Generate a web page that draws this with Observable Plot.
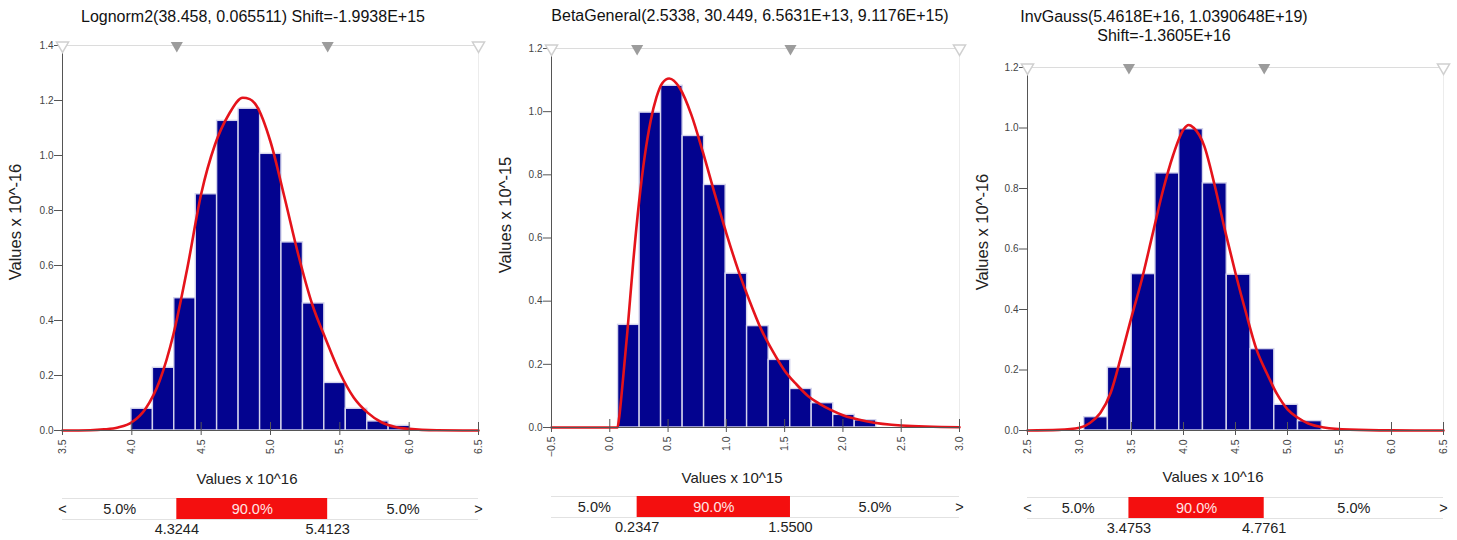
<!DOCTYPE html>
<html><head><meta charset="utf-8">
<script src="https://cdn.jsdelivr.net/npm/d3@7"></script>
<script src="https://cdn.jsdelivr.net/npm/@observablehq/plot@0.6"></script>
<style>
body{margin:0;background:#fff;font-family:"Liberation Sans",Arial,sans-serif;}
#root{position:relative;width:1457px;height:540px;overflow:hidden;background:#fff;}
.title{position:absolute;font-size:16px;color:#111;white-space:nowrap;transform:translate(-50%,-50%);line-height:19px;text-align:center;}
.ylab{position:absolute;font-size:16.5px;color:#222;white-space:nowrap;transform:translate(-50%,-50%) rotate(-90deg);}
.xlab{position:absolute;font-size:15px;color:#222;white-space:nowrap;transform:translate(-50%,-50%);}
</style></head><body><div id="root"></div>
<script>
// ---------- DATA ----------
// Panel 1: Lognorm2
const p1Title = ["Lognorm2(38.458, 0.065511) Shift=-1.9938E+15"];
const p1YLabel = "Values x 10^-16";
const p1XLabel = "Values x 10^16";
const p1XTicks = [3.5, 4.0, 4.5, 5.0, 5.5, 6.0, 6.5];
const p1YTicks = [0, 0.2, 0.4, 0.6, 0.8, 1.0, 1.2, 1.4];
const p1BinEdges = [3.997, 4.152, 4.306, 4.461, 4.615, 4.770, 4.925, 5.079, 5.234, 5.388, 5.543, 5.698, 5.852, 6.007];
const p1BinHeights = [0.079, 0.228, 0.481, 0.859, 1.126, 1.170, 1.006, 0.684, 0.462, 0.173, 0.079, 0.033, 0.017];
const p1CurveX = [3.5, 3.7, 3.8, 3.9, 4.0, 4.1, 4.2, 4.3, 4.4, 4.5, 4.6, 4.7, 4.8, 4.85, 4.9, 5.0, 5.1, 5.2, 5.3, 5.4, 5.5, 5.6, 5.7, 5.8, 5.9, 6.0, 6.2, 6.5];
const p1CurveY = [0, 0.001, 0.004, 0.011, 0.03, 0.08, 0.18, 0.35, 0.59, 0.86, 1.04, 1.15, 1.21, 1.205, 1.18, 1.05, 0.85, 0.64, 0.46, 0.33, 0.21, 0.12, 0.065, 0.03, 0.013, 0.006, 0.001, 0];
const p1Quantiles = [4.3244, 5.4123];
const p1QuantileLabels = ["4.3244", "5.4123"];
const p1Shares = ["5.0%", "90.0%", "5.0%"];
const p1Arrows = ["<", ">"];

// Panel 2: BetaGeneral
const p2Title = ["BetaGeneral(2.5338, 30.449, 6.5631E+13, 9.1176E+15)"];
const p2YLabel = "Values x 10^-15";
const p2XLabel = "Values x 10^15";
const p2XTicks = [-0.5, 0.0, 0.5, 1.0, 1.5, 2.0, 2.5, 3.0];
const p2YTicks = [0, 0.2, 0.4, 0.6, 0.8, 1.0, 1.2];
const p2BinEdges = [0.071, 0.256, 0.440, 0.625, 0.809, 0.994, 1.178, 1.363, 1.548, 1.732, 1.917, 2.101, 2.286];
const p2BinHeights = [0.325, 0.997, 1.082, 0.923, 0.768, 0.487, 0.321, 0.214, 0.122, 0.077, 0.040, 0.023];
const p2CurveX = [-0.5, 0.066, 0.08, 0.1, 0.125, 0.15, 0.2, 0.25, 0.3, 0.35, 0.4, 0.45, 0.51, 0.6, 0.7, 0.8, 0.9, 1.0, 1.1, 1.2, 1.3, 1.4, 1.5, 1.6, 1.7, 1.8, 1.9, 2.0, 2.2, 2.5, 3.0];
const p2CurveY = [0, 0, 0.03, 0.1, 0.2, 0.3, 0.52, 0.71, 0.86, 0.97, 1.045, 1.09, 1.105, 1.075, 0.99, 0.87, 0.74, 0.615, 0.5, 0.4, 0.31, 0.24, 0.18, 0.137, 0.1, 0.075, 0.055, 0.039, 0.02, 0.0065, 0.001];
const p2Quantiles = [0.2347, 1.5500];
const p2QuantileLabels = ["0.2347", "1.5500"];
const p2Shares = ["5.0%", "90.0%", "5.0%"];
const p2Arrows = ["", ">"];

// Panel 3: InvGauss
const p3Title = ["InvGauss(5.4618E+16, 1.0390648E+19)", "Shift=-1.3605E+16"];
const p3YLabel = "Values x 10^-16";
const p3XLabel = "Values x 10^16";
const p3XTicks = [2.5, 3.0, 3.5, 4.0, 4.5, 5.0, 5.5, 6.0, 6.5];
const p3YTicks = [0, 0.2, 0.4, 0.6, 0.8, 1.0, 1.2];
const p3BinEdges = [3.045, 3.273, 3.502, 3.730, 3.959, 4.187, 4.416, 4.644, 4.873, 5.101, 5.330];
const p3BinHeights = [0.044, 0.208, 0.517, 0.850, 0.996, 0.817, 0.515, 0.269, 0.085, 0.031];
const p3CurveX = [2.5, 2.8, 3.0, 3.1, 3.2, 3.3, 3.4, 3.5, 3.6, 3.7, 3.8, 3.9, 4.0, 4.05, 4.1, 4.2, 4.3, 4.4, 4.5, 4.6, 4.7, 4.8, 4.9, 5.0, 5.1, 5.2, 5.35, 5.6, 6.0, 6.5];
const p3CurveY = [0, 0.002, 0.009, 0.025, 0.058, 0.125, 0.245, 0.375, 0.5, 0.645, 0.79, 0.91, 0.995, 1.01, 1.0, 0.94, 0.81, 0.66, 0.52, 0.39, 0.27, 0.19, 0.12, 0.07, 0.042, 0.023, 0.01, 0.003, 0.0005, 0];
const p3Quantiles = [3.4753, 4.7761];
const p3QuantileLabels = ["3.4753", "4.7761"];
const p3Shares = ["5.0%", "90.0%", "5.0%"];
const p3Arrows = ["<", ">"];

// ---------- LAYOUT ----------
const FONT = '"Liberation Sans", Arial, sans-serif';
const panels = [
  {title: p1Title, yLabel: p1YLabel, xLabel: p1XLabel, xTicks: p1XTicks, yTicks: p1YTicks, edges: p1BinEdges, heights: p1BinHeights,
   curveX: p1CurveX, curveY: p1CurveY, quantiles: p1Quantiles, qLabels: p1QuantileLabels, shares: p1Shares, arrows: p1Arrows,
   L: {left: 0, width: 490, ml: 62, mr: 12, mt: 45, mb: 50, bt: 498, bb: 519, titleX: 253, titleY: 16, ylx: 15, yly: 222, xlx: 247, xly: 478}},
  {title: p2Title, yLabel: p2YLabel, xLabel: p2XLabel, xTicks: p2XTicks, yTicks: p2YTicks, edges: p2BinEdges, heights: p2BinHeights,
   curveX: p2CurveX, curveY: p2CurveY, quantiles: p2Quantiles, qLabels: p2QuantileLabels, shares: p2Shares, arrows: p2Arrows,
   L: {left: 490, width: 490, ml: 61, mr: 21, mt: 48, mb: 53, bt: 496, bb: 517, titleX: 750, titleY: 15, ylx: 505, yly: 215, xlx: 732, xly: 477}},
  {title: p3Title, yLabel: p3YLabel, xLabel: p3XLabel, xTicks: p3XTicks, yTicks: p3YTicks, edges: p3BinEdges, heights: p3BinHeights,
   curveX: p3CurveX, curveY: p3CurveY, quantiles: p3Quantiles, qLabels: p3QuantileLabels, shares: p3Shares, arrows: p3Arrows,
   L: {left: 970, width: 487, ml: 57, mr: 14, mt: 67, mb: 50, bt: 497, bb: 518, titleX: 1164, titleY: 26, ylx: 982, yly: 232, xlx: 1213, xly: 476}}
];
const H = 480;
const root = document.getElementById("root");

function place(el, left, top) { el.style.position = "absolute"; el.style.left = left + "px"; el.style.top = top + "px"; root.appendChild(el); }
function div(cls, html, x, y) { const d = document.createElement("div"); d.className = cls; d.innerHTML = html; d.style.left = x + "px"; d.style.top = y + "px"; root.appendChild(d); return d; }

for (const d of panels) {
  const L = d.L;
  const xmin = d.xTicks[0], xmax = d.xTicks[d.xTicks.length - 1];
  const ymax = d.yTicks[d.yTicks.length - 1];
  const bins = d.heights.map((h, i) => ({x1: d.edges[i], x2: d.edges[i + 1], h}));
  const curve = d.curveX.map((x, i) => ({x, y: d.curveY[i]}));

  const hist = Plot.plot({
    width: L.width, height: H,
    marginLeft: L.ml, marginRight: L.mr, marginTop: L.mt, marginBottom: L.mb,
    style: {fontFamily: FONT, fontSize: "10px", color: "#333", background: "transparent", overflow: "visible"},
    x: {domain: [xmin, xmax]},
    y: {domain: [0, ymax]},
    marks: [
      Plot.ruleY([ymax], {stroke: "#dcdcdc"}),
      Plot.ruleX([xmax], {stroke: "#ececec"}),
      Plot.rectY(bins, {x1: "x1", x2: "x2", y: "h", fill: "#03038f", stroke: "#d4d4ec", strokeWidth: 1.4}),
      Plot.line(curve, {x: "x", y: "y", stroke: "#e5131b", strokeWidth: 2.6, curve: "monotone-x"}),
      Plot.ruleY([0], {stroke: "#555"}),
      Plot.ruleX([xmin], {stroke: "#555"}),
      Plot.ruleX(d.xTicks, {y1: 0, y2: 0, insetTop: -8, stroke: "#555"}),
      Plot.axisX({ticks: d.xTicks, tickFormat: d3.format(".1f"), tickRotate: -90, tickSize: 5, tickPadding: 4, label: null, stroke: "#555", fill: "#444", fontSize: 10.5}),
      Plot.axisY({ticks: d.yTicks, tickFormat: d3.format(".1f"), tickSize: 8, tickPadding: 1, label: null, stroke: "#555", fill: "#444"}),
      Plot.dot(d.quantiles, {x: (q) => q, y: () => ymax, symbol: "triangle", rotate: 180, r: 4.5, fill: "#9c9c9c"}),
      Plot.dot([xmin, xmax], {x: (v) => v, y: () => ymax, symbol: "triangle", rotate: 180, r: 4.5, fill: "white", stroke: "#d0d0d0"})
    ]
  });
  place(hist, L.left, 0);

  const segs = [
    {x1: xmin, x2: d.quantiles[0], label: d.shares[0], fill: "#222"},
    {x1: d.quantiles[0], x2: d.quantiles[1], label: d.shares[1], fill: "#ffe4e4"},
    {x1: d.quantiles[1], x2: xmax, label: d.shares[2], fill: "#222"}
  ];
  const arrows = [{x: xmin, t: d.arrows[0], a: "start"}, {x: xmax, t: d.arrows[1], a: "end"}];
  const bh = 50;
  const bar = Plot.plot({
    width: L.width, height: bh,
    marginLeft: L.ml, marginRight: L.mr, marginTop: L.bt - 490, marginBottom: bh - (L.bb - 490),
    style: {fontFamily: FONT, fontSize: "14.5px", background: "transparent", overflow: "visible"},
    x: {domain: [xmin, xmax], axis: null},
    y: {domain: [0, 1], axis: null},
    marks: [
      Plot.ruleY([0, 1], {stroke: "#e2e2e2"}),
      Plot.rect([segs[1]], {x1: "x1", x2: "x2", y1: 0, y2: 1, fill: "#f40f0f"}),
      Plot.text(segs, {x: (s) => (s.x1 + s.x2) / 2, y: 0.5, text: "label", fill: "fill", fontSize: 14.5}),
      Plot.text(arrows, {x: "x", y: 0.5, text: "t", textAnchor: "a", fill: "#222", fontSize: 14.5}),
      Plot.text(d.quantiles, {x: (q) => q, y: 0, dy: 10, text: (q, i) => d.qLabels[i], fill: "#222", fontSize: 14.5})
    ]
  });
  place(bar, L.left, 490);

  div("title", d.title.join("<br>"), L.titleX, L.titleY);
  div("ylab", d.yLabel, L.ylx, L.yly);
  div("xlab", d.xLabel, L.xlx, L.xly);
}
</script></body></html>
